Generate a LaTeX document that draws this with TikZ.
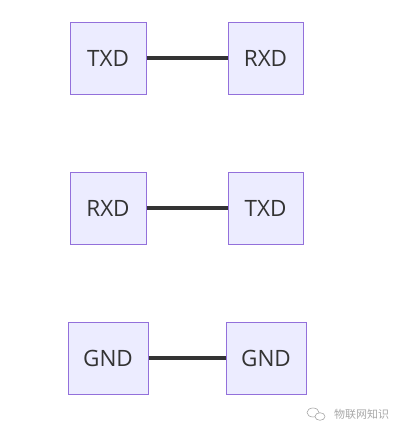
\documentclass[tikz,border=0pt]{standalone}
\usepackage{fontspec}
\setmainfont{Open Sans}
\newfontfamily\cjk{Noto Sans CJK SC}
\definecolor{boxfill}{HTML}{ECECFF}
\definecolor{boxline}{HTML}{9370DB}
\definecolor{edge}{HTML}{333333}
\definecolor{wm}{HTML}{A8A8A8}
\begin{document}
\begin{tikzpicture}[x=1pt,y=-1pt,
  box/.style={draw=boxline,fill=boxfill,line width=1pt,minimum height=72pt,text=edge,font=\fontsize{22.5}{26}\selectfont,inner sep=0pt},
  link/.style={draw=edge,line width=3.2pt}]
\useasboundingbox (0,0) rectangle (398,431);
\node[box,minimum width=76pt] (t1) at (108,58) {TXD};
\node[box,minimum width=75pt] (r1) at (265.5,58) {RXD};
\node[box,minimum width=76pt] (r2) at (108,208) {RXD};
\node[box,minimum width=75pt] (t2) at (265.5,208) {TXD};
\node[box,minimum width=80pt] (g1) at (108,358) {GND};
\node[box,minimum width=80pt] (g2) at (266,358) {GND};
\draw[link] (t1) -- (r1);
\draw[link] (r2) -- (t2);
\draw[link] (g1) -- (g2);
% watermark
\node[inner sep=0pt,text=wm,font=\cjk\fontsize{11}{12}\selectfont,anchor=west] (wmtext) at (334,414) {物联网知识};
\draw[wm,line width=0.6pt] (313,412.5) ellipse (6pt and 4.5pt);
\draw[wm,line width=0.6pt,fill=white] (320,416.5) ellipse (5pt and 3.8pt);
\end{tikzpicture}
\end{document}
